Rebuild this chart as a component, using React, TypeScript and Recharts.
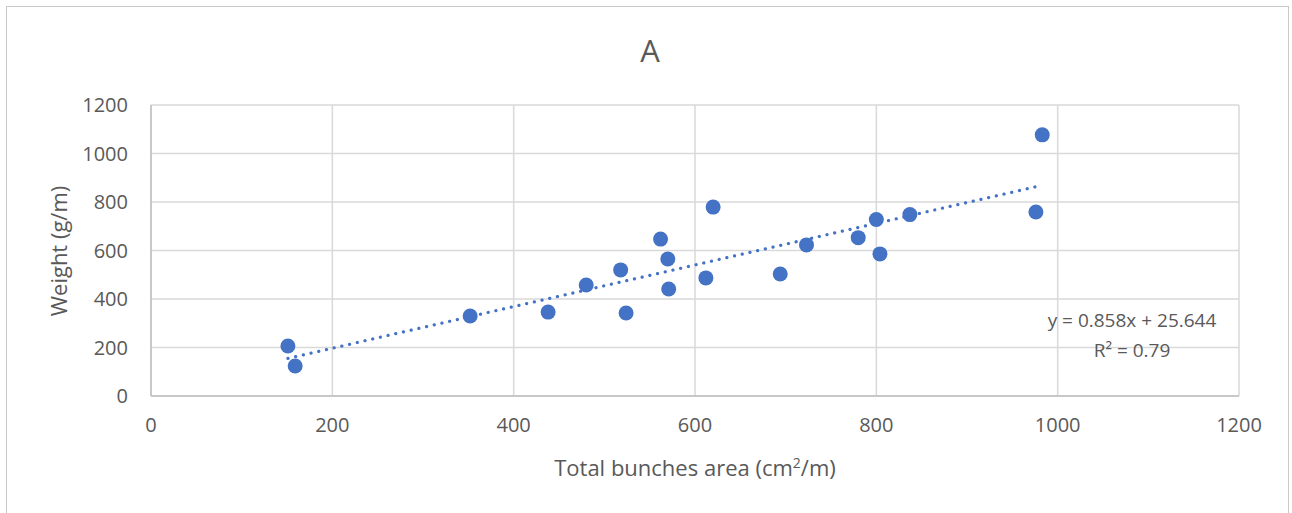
import { ScatterChart, Scatter, XAxis, YAxis, CartesianGrid } from 'recharts';

// area (cm²/m) and weight (g/m)
const areaValues = [151, 159, 352, 438, 480, 518, 524, 562, 570, 571, 612, 620, 694, 723, 780, 800, 804, 837, 976, 983];
const weightValues = [206, 124, 330, 346, 458, 520, 342, 647, 565, 441, 487, 779, 503, 623, 653, 728, 586, 748, 759, 1077];

// linear trendline endpoints (y = 0.858x + 25.644)
const trendX = [151, 983];
const trendY = [155, 869];

const xTicks = [0, 200, 400, 600, 800, 1000, 1200];
const yTicks = [0, 200, 400, 600, 800, 1000, 1200];

const points = areaValues.map((x, i) => ({ x, y: weightValues[i] }));
const trend = trendX.map((x, i) => ({ x, y: trendY[i] }));

const FONT = '"Open Sans", sans-serif';
const TEXT = '#595959';
const BLUE = '#4472C4';

const Dot = (props: any) => <circle cx={props.cx} cy={props.cy} r={7.5} fill={BLUE} />;

export default function App() {
  return (
    <div style={{ position: 'absolute', left: 0, top: 0, width: 1292, height: 513, background: '#fff', overflow: 'hidden', fontFamily: FONT }}>
      <ScatterChart width={1292} height={513} margin={{ top: 105, right: 53, bottom: 87, left: 81 }}>
        <CartesianGrid stroke="#d9d9d9" strokeWidth={1.5} />
        <XAxis
          type="number"
          dataKey="x"
          domain={[0, 1200]}
          ticks={xTicks}
          height={30}
          tickLine={false}
          tickSize={0}
          tickMargin={22}
          stroke="#bfbfbf"
          strokeWidth={1.5}
          tick={{ fill: TEXT, fontSize: 20, fontFamily: FONT }}
        />
        <YAxis
          type="number"
          dataKey="y"
          domain={[0, 1200]}
          ticks={yTicks}
          width={70}
          tickLine={false}
          tickSize={0}
          tickMargin={23}
          stroke="#bfbfbf"
          strokeWidth={1.5}
          tick={{ fill: TEXT, fontSize: 20, fontFamily: FONT }}
        />
        <Scatter
          data={trend}
          isAnimationActive={false}
          line={{ stroke: BLUE, strokeWidth: 3.2, strokeDasharray: '0.1 7.8', strokeLinecap: 'round' }}
          shape={() => <g />}
        />
        <Scatter data={points} isAnimationActive={false} shape={Dot} />
      </ScatterChart>
      <div style={{ position: 'absolute', left: 6, top: 6, width: 1283, height: 520, border: '1px solid #c8c8c8', boxSizing: 'border-box', pointerEvents: 'none', zIndex: 10 }} />
      <div style={{ position: 'absolute', left: 0, width: 1300, top: 30, textAlign: 'center', fontSize: 31, color: TEXT, lineHeight: '40px' }}>A</div>
      <div style={{ position: 'absolute', left: 400, width: 590, top: 452, textAlign: 'center', fontSize: 22, color: TEXT, lineHeight: '30px' }}>
        Total bunches area (cm<sup style={{ fontSize: 14, verticalAlign: 'top', lineHeight: '22px' }}>2</sup>/m)
      </div>
      <div style={{ position: 'absolute', left: 58, top: 251, transform: 'translate(-50%, -50%) rotate(-90deg)', whiteSpace: 'nowrap', fontSize: 22, color: TEXT, lineHeight: '30px' }}>
        Weight (g/m)
      </div>
      <div style={{ position: 'absolute', left: 1032, width: 200, top: 305, textAlign: 'center', fontSize: 19, color: TEXT, lineHeight: '30px' }}>
        y = 0.858x + 25.644
        <br />
        R² = 0.79
      </div>
    </div>
  );
}
